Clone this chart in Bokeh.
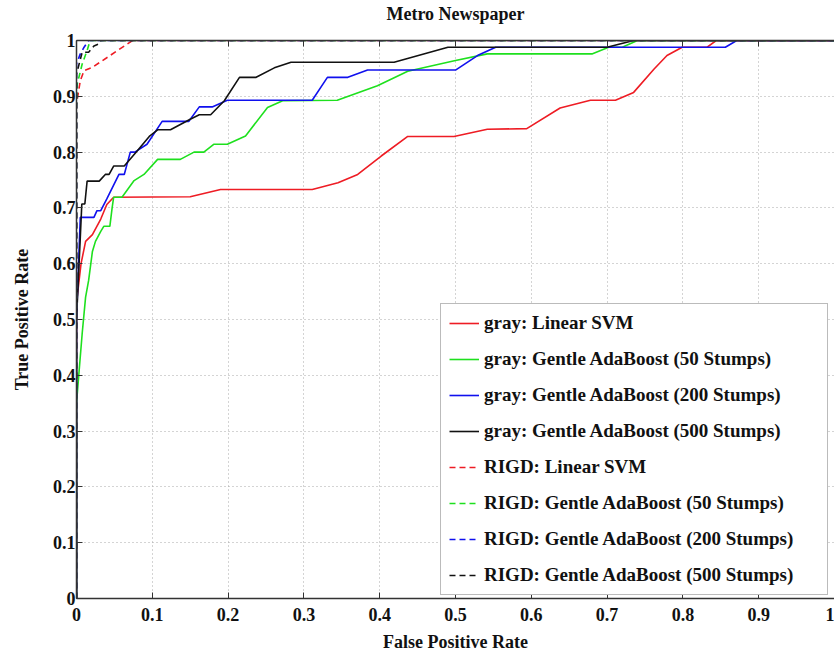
from bokeh.plotting import figure
from bokeh.models import Range1d, LinearAxis, FixedTicker, CustomJSTickFormatter
from bokeh.embed import file_html
from bokeh.resources import INLINE

title_text = "Metro Newspaper"
x_label = "False Positive Rate"
y_label = "True Positive Rate"
tick_values = [0.0, 0.1, 0.2, 0.3, 0.4, 0.5, 0.6, 0.7, 0.8, 0.9, 1.0]

# gray: Linear SVM
gray_svm_x = [0, 0, 0.006, 0.012, 0.021, 0.032, 0.04, 0.049, 0.15, 0.19, 0.311, 0.345, 0.371, 0.402,
              0.437, 0.498, 0.542, 0.594, 0.638, 0.678, 0.711, 0.735, 0.762, 0.779, 0.799, 0.832, 0.844, 1.0]
gray_svm_y = [0, 0.53, 0.6, 0.64, 0.652, 0.68, 0.706, 0.719, 0.72, 0.733, 0.733, 0.745, 0.76, 0.793,
              0.828, 0.828, 0.841, 0.842, 0.879, 0.893, 0.893, 0.907, 0.949, 0.973, 0.988, 0.988, 1.0, 1.0]

# gray: Gentle AdaBoost (50 Stumps)
gray_g50_x = [0, 0, 0.003, 0.0075, 0.012, 0.016, 0.021, 0.025, 0.032, 0.036, 0.044, 0.047, 0.049, 0.06,
              0.076, 0.089, 0.107, 0.137, 0.155, 0.168, 0.181, 0.199, 0.223, 0.252, 0.272, 0.344, 0.397,
              0.437, 0.5, 0.542, 0.68, 0.702, 0.72, 0.74, 1.0]
gray_g50_y = [0, 0.35, 0.4, 0.475, 0.54, 0.57, 0.622, 0.64, 0.658, 0.667, 0.667, 0.7, 0.719, 0.719,
              0.749, 0.76, 0.787, 0.787, 0.8, 0.8, 0.814, 0.814, 0.829, 0.88, 0.892, 0.893, 0.919,
              0.945, 0.964, 0.976, 0.976, 0.988, 0.988, 1.0, 1.0]

# gray: Gentle AdaBoost (200 Stumps)
gray_g200_x = [0, 0, 0.005, 0.023, 0.027, 0.032, 0.04, 0.056, 0.063, 0.071, 0.077, 0.093, 0.113, 0.148,
               0.162, 0.179, 0.199, 0.311, 0.331, 0.358, 0.384, 0.5, 0.529, 0.553, 0.856, 0.871, 1.0]
gray_g200_y = [0, 0.5, 0.683, 0.683, 0.695, 0.695, 0.716, 0.76, 0.76, 0.8, 0.8, 0.814, 0.855, 0.855,
               0.881, 0.881, 0.893, 0.893, 0.934, 0.934, 0.947, 0.947, 0.973, 0.988, 0.988, 1.0, 1.0]

# gray: Gentle AdaBoost (500 Stumps)
gray_g500_x = [0, 0, 0.005, 0.007, 0.011, 0.014, 0.03, 0.038, 0.043, 0.049, 0.063, 0.08, 0.096, 0.107,
               0.124, 0.15, 0.162, 0.177, 0.195, 0.215, 0.237, 0.261, 0.283, 0.419, 0.49, 0.7, 0.735, 1.0]
gray_g500_y = [0, 0.5, 0.647, 0.707, 0.707, 0.748, 0.748, 0.76, 0.76, 0.775, 0.775, 0.802, 0.828, 0.84,
               0.84, 0.859, 0.867, 0.867, 0.892, 0.934, 0.934, 0.951, 0.961, 0.961, 0.988, 0.988, 1.0, 1.0]

# RIGD curves
rigd_svm_x = [0, 0, 0.005, 0.01, 0.021, 0.074, 1.0]
rigd_svm_y = [0, 0.886, 0.928, 0.946, 0.952, 1.0, 1.0]
rigd_g50_x = [0, 0, 0.001, 0.0075, 0.014, 0.018, 1.0]
rigd_g50_y = [0, 0.88, 0.922, 0.958, 0.982, 1.0, 1.0]
rigd_g200_x = [0, 0, 0.005, 0.01, 0.016, 1.0]
rigd_g200_y = [0, 0.958, 0.976, 0.988, 1.0, 1.0]
rigd_g500_x = [0, 0, 0.0075, 0.016, 0.023, 0.03, 0.032, 1.0]
rigd_g500_y = [0, 0.94, 0.979, 0.979, 0.99, 0.994, 1.0, 1.0]

RED, GREEN, BLUE, BLACK = "#ee1c24", "#1ee01e", "#1010ee", "#111111"
FONT = "Liberation Serif"

p = figure(width=834, height=654, output_backend="svg", toolbar_location=None,
           x_range=Range1d(0, 1.0), y_range=Range1d(0, 1),
           min_border_left=76, min_border_right=0, min_border_top=40, min_border_bottom=56,
           x_axis_location=None, y_axis_location=None)
p.outline_line_color = None
p.background_fill_color = "white"
p.border_fill_color = "white"

fmt = CustomJSTickFormatter(code="return tick.toFixed(1).replace(/\\.0$/, '');")
blank_fmt = CustomJSTickFormatter(code="return '';")

def style_axis(ax):
    ax.ticker = FixedTicker(ticks=tick_values)
    ax.formatter = fmt
    ax.axis_line_color = "#333333"
    ax.axis_line_width = 1.5
    ax.major_tick_line_color = "#333333"
    ax.major_tick_in = 6
    ax.major_tick_out = 0
    ax.minor_tick_line_color = None
    ax.major_label_text_font = FONT
    ax.major_label_text_font_style = "bold"
    ax.major_label_text_font_size = "18px"
    ax.major_label_text_color = "#111111"
    ax.axis_label_text_font = FONT
    ax.axis_label_text_font_style = "bold"
    ax.axis_label_text_font_size = "18px"
    ax.axis_label_text_color = "#111111"

xax = LinearAxis(axis_label=x_label)
style_axis(xax)
xax.major_label_standoff = 9
xax.axis_label_standoff = 8
p.add_layout(xax, "below")

yax = LinearAxis(axis_label=y_label)
style_axis(yax)
yax.major_label_standoff = 1
yax.axis_label_standoff = 18
p.add_layout(yax, "left")

# top box edge with inward ticks; the chart title sits above it
top = LinearAxis(axis_label=title_text)
style_axis(top)
top.formatter = blank_fmt
top.major_label_text_color = None
top.major_label_standoff = 0
top.axis_label_standoff = 17
p.add_layout(top, "above")

for g in (p.xgrid, p.ygrid):
    g.ticker = FixedTicker(ticks=tick_values)
    g.grid_line_color = "#a8a8a8"
    g.grid_line_dash = "1 3"
    g.grid_line_width = 1

series = [
    (gray_svm_x, gray_svm_y, RED, "solid", "gray: Linear SVM"),
    (gray_g50_x, gray_g50_y, GREEN, "solid", "gray: Gentle AdaBoost (50 Stumps)"),
    (gray_g200_x, gray_g200_y, BLUE, "solid", "gray: Gentle AdaBoost (200 Stumps)"),
    (gray_g500_x, gray_g500_y, BLACK, "solid", "gray: Gentle AdaBoost (500 Stumps)"),
    (rigd_svm_x, rigd_svm_y, RED, "6 4", "RIGD: Linear SVM"),
    (rigd_g50_x, rigd_g50_y, GREEN, "6 4", "RIGD: Gentle AdaBoost (50 Stumps)"),
    (rigd_g200_x, rigd_g200_y, BLUE, "6 4", "RIGD: Gentle AdaBoost (200 Stumps)"),
    (rigd_g500_x, rigd_g500_y, BLACK, "6 4", "RIGD: Gentle AdaBoost (500 Stumps)"),
]
for xs, ys, c, dash, lab in series:
    p.line(xs, ys, line_color=c, line_dash=dash, line_width=1.6, legend_label=lab)

lg = p.legend[0]
lg.location = (364, 3)
lg.border_line_color = "#777777"
lg.border_line_width = 1
lg.background_fill_color = "white"
lg.background_fill_alpha = 1
lg.label_text_font = FONT
lg.label_text_font_style = "bold"
lg.label_text_font_size = "19px"
lg.label_text_color = "#111111"
lg.glyph_width = 30
lg.glyph_height = 22
lg.label_height = 22
lg.label_width = 335
lg.label_standoff = 5
lg.spacing = 14
lg.padding = 8
lg.margin = 0

open("out.html", "w").write(file_html(p, INLINE))
